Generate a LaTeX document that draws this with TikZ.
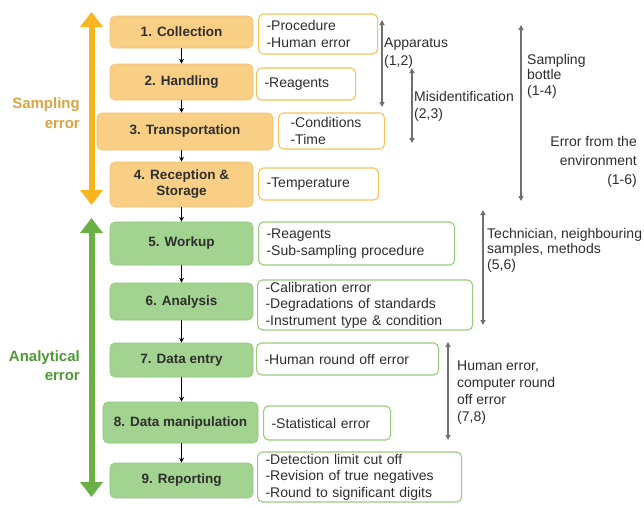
\documentclass[tikz,border=0pt]{standalone}
\usepackage{fontspec}
\setmainfont{Liberation Sans}
\usetikzlibrary{arrows.meta}
\definecolor{ofill}{HTML}{F9CF86}
\definecolor{oborder}{HTML}{F2C270}
\definecolor{gfill}{HTML}{A3D390}
\definecolor{gborder}{HTML}{8EC67A}
\definecolor{oside}{HTML}{F4C55A}
\definecolor{gside}{HTML}{9CCB7E}
\definecolor{obig}{HTML}{F8B522}
\definecolor{gbig}{HTML}{6BB044}
\definecolor{otext}{HTML}{D9A544}
\definecolor{gtext}{HTML}{4F9A35}
\definecolor{grayarr}{HTML}{707070}
\definecolor{txt}{HTML}{2E2E2E}
\tikzset{
  mainbox/.style={rounded corners=5pt, line width=0.6pt, minimum width=143pt,
    font=\fontsize{13.5}{16}\selectfont\bfseries, text=txt, align=center, inner sep=2pt},
  obox/.style={mainbox, fill=ofill, draw=oborder},
  gbox/.style={mainbox, fill=gfill, draw=gborder},
  sidebox/.style={rounded corners=5pt, line width=1.1pt, fill=white,
    font=\fontsize{14}{16.5}\selectfont, text=txt, align=left, inner xsep=8pt,
    inner ysep=2pt, anchor=west},
  oside/.style={sidebox, draw=oside},
  gside/.style={sidebox, draw=gside},
  smallarr/.style={line width=0.8pt, -{Stealth[length=5pt,width=5pt]}, draw=black},
  grayarrow/.style={line width=1.3pt, draw=grayarr,
    {Triangle[length=5pt,width=5pt]}-{Triangle[length=5pt,width=5pt]}},
  lbl/.style={font=\fontsize{14}{17}\selectfont, text=txt, inner sep=0pt, align=left},
  bigarrow/.style={line width=6pt, -{Triangle[length=15pt,width=22pt]}}
}
\begin{document}
\begin{tikzpicture}[x=1pt,y=-1pt]
\useasboundingbox (0,0) rectangle (644,507);
\fill[white] (0,0) rectangle (644,507);

% big arrows
\coordinate (oa1) at (91.5,12);
\coordinate (oa2) at (91.5,205);
\coordinate (ga1) at (91.5,218);
\coordinate (ga2) at (91.5,497);
\draw[bigarrow, draw=obig, fill=obig, {Triangle[length=15pt,width=22pt]}-{Triangle[length=15pt,width=22pt]}] (oa1) -- (oa2);
\draw[bigarrow, draw=gbig, fill=gbig, {Triangle[length=15pt,width=22pt]}-{Triangle[length=15pt,width=22pt]}] (ga1) -- (ga2);

\node[anchor=east, align=right, font=\fontsize{15}{20}\selectfont\bfseries, text=otext, inner sep=0pt] (se) at (80,113) {Sampling\\error};
\node[anchor=east, align=right, font=\fontsize{15}{19}\selectfont\bfseries, text=gtext, inner sep=0pt] (ae) at (80,366) {Analytical\\error};

% main boxes
\node[obox, minimum height=32pt] (b1) at (181.5,32) {1. Collection};
\node[obox, minimum height=36pt] (b2) at (181.5,82) {2. Handling};
\node[obox, minimum height=37pt, minimum width=176pt] (b3) at (185,131.5) {3. Transportation};
\node[obox, minimum height=45pt] (b4) at (181.5,184.5) {4. Reception \&\\Storage};
\node[gbox, minimum height=43pt] (b5) at (181.5,243.5) {5. Workup};
\node[gbox, minimum height=37pt] (b6) at (181.5,301.5) {6. Analysis};
\node[gbox, minimum height=34pt] (b7) at (181.5,360) {7. Data entry};
\node[gbox, minimum height=41pt, minimum width=155pt] (b8) at (180.5,422.5) {8. Data manipulation};
\node[gbox, minimum height=35pt] (b9) at (181.5,480.5) {9. Reporting};

\foreach \a/\b in {b1/b2,b2/b3,b3/b4,b4/b5,b5/b6,b6/b7,b7/b8,b8/b9}
  \draw[smallarr] (b1.south |- \a.south) -- (b1.south |- \b.north);

% side boxes
\node[oside, text width=103pt, minimum height=40pt] (s1) at (258,34) {-Procedure\\-Human error};
\node[oside, text width=83pt, minimum height=32pt] (s2) at (256,84) {-Reagents};
\node[oside, text width=82pt, inner xsep=12pt, minimum height=36pt] (s3) at (278,131) {-Conditions\\-Time};
\node[oside, text width=104pt, minimum height=32pt] (s4) at (258,184) {-Temperature};
\node[gside, text width=180pt, minimum height=43pt] (s5) at (258,243.5) {-Reagents\\-Sub-sampling procedure};
\node[gside, text width=199pt, minimum height=50pt] (s6) at (257,305) {-Calibration error\\-Degradations of standards\\-Instrument type \& condition};
\node[gside, text width=166pt, minimum height=32pt] (s7) at (256,359) {-Human round off error};
\node[gside, text width=111pt, minimum height=34pt] (s8) at (263,423) {-Statistical error};
\node[gside, text width=188pt, minimum height=48pt] (s9) at (257,477) {-Detection limit cut off\\-Revision of true negatives\\-Round to significant digits};

% gray arrows
\coordinate (ap1) at (382,20);  \coordinate (ap2) at (382,107);
\coordinate (mi1) at (412,68);  \coordinate (mi2) at (412,143);
\coordinate (sb1) at (521,25);  \coordinate (sb2) at (521,201);
\coordinate (te1) at (483,210); \coordinate (te2) at (483,325);
\coordinate (hu1) at (448,342); \coordinate (hu2) at (448,440);
\draw[grayarrow] (ap1) -- (ap2);
\draw[grayarrow] (mi1) -- (mi2);
\draw[grayarrow] (sb1) -- (sb2);
\draw[grayarrow] (te1) -- (te2);
\draw[grayarrow] (hu1) -- (hu2);

\node[lbl, anchor=west, font=\fontsize{14}{18}\selectfont] (lap) at (384,53) {Apparatus\\(1,2)};
\node[lbl, anchor=west] (lmi) at (414,106.5) {Misidentification\\(2,3)};
\node[lbl, anchor=west, font=\fontsize{14}{15.5}\selectfont] (lsb) at (527,76) {Sampling\\bottle\\(1-4)};
\node[lbl, anchor=east, align=right, font=\fontsize{14}{19}\selectfont] (len) at (637,162) {Error from the\\environment\\(1-6)};
\node[lbl, anchor=west, font=\fontsize{14}{15.5}\selectfont] (lte) at (487,250) {Technician, neighbouring\\samples, methods\\(5,6)};
\node[lbl, anchor=west] (lhu) at (457,392.5) {Human error,\\computer round\\off error\\(7,8)};
\end{tikzpicture}
\end{document}
